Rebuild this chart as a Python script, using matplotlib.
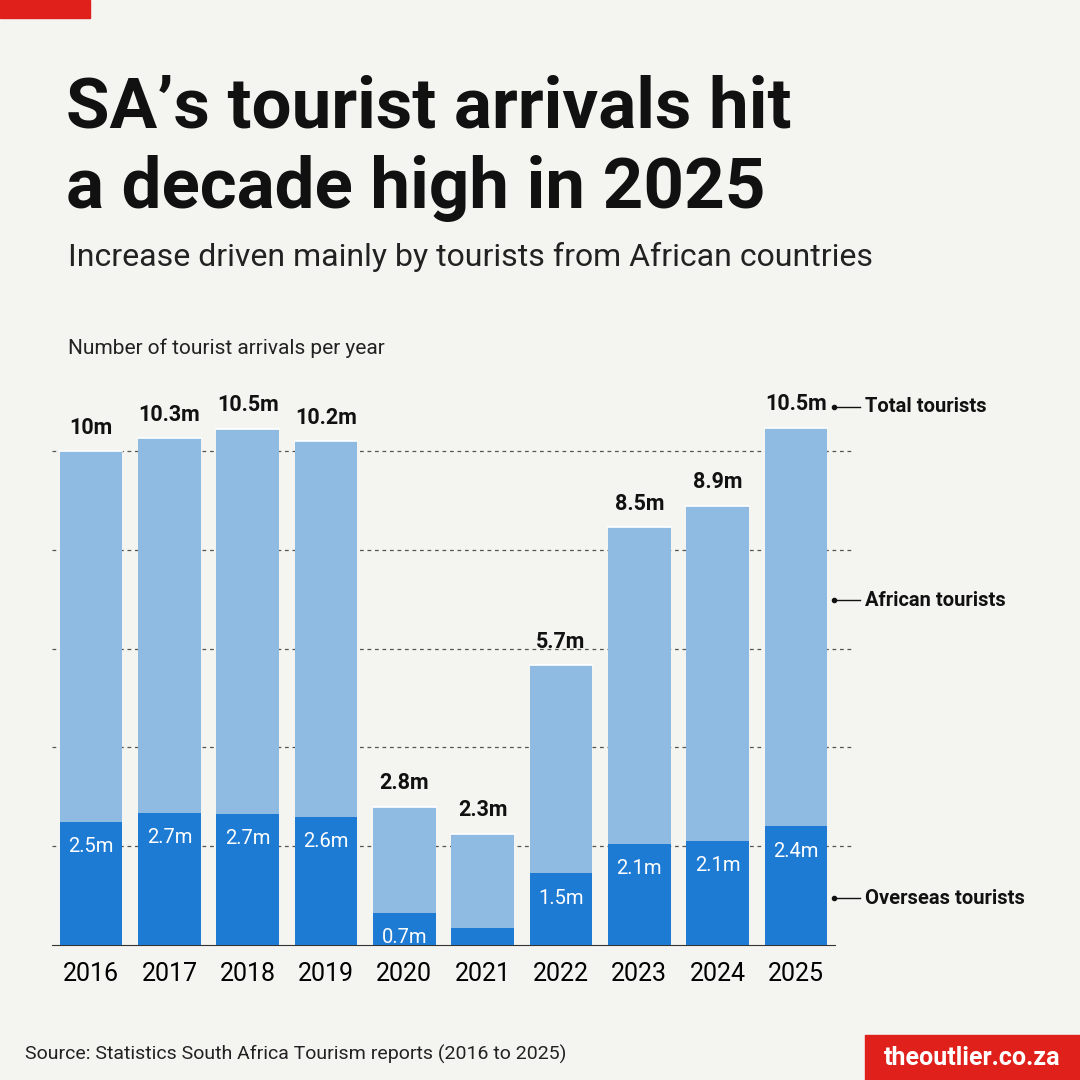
import matplotlib.pyplot as plt
from matplotlib.patches import Rectangle

years = ['2016', '2017', '2018', '2019', '2020', '2021', '2022', '2023', '2024', '2025']
total = [10.0, 10.26, 10.45, 10.2, 2.8, 2.25, 5.67, 8.46, 8.89, 10.47]
overseas = [2.5, 2.68, 2.65, 2.6, 0.65, 0.35, 1.45, 2.05, 2.1, 2.4]
total_lbl = ['10m', '10.3m', '10.5m', '10.2m', '2.8m', '2.3m', '5.7m', '8.5m', '8.9m', '10.5m']
over_lbl = ['2.5m', '2.7m', '2.7m', '2.6m', '0.7m', '', '1.5m', '2.1m', '2.1m', '2.4m']

BG = '#f4f4f0'
LIGHT = '#8fbbe3'
DARK = '#1e7bd3'
W = H = 1080
FONT = ['Roboto', 'DejaVu Sans']

fig = plt.figure(figsize=(10.8, 10.8), dpi=100, facecolor=BG)

def px(x, y):
    return x / W, 1 - y / H

# red tab top-left
fig.patches.append(Rectangle(px(0, 18), 90 / W, 18 / H, transform=fig.transFigure, color='#e0201b'))

fig.text(*px(66, 128), 'SA’s tourist arrivals hit', fontsize=51, fontweight='bold',
         family=FONT, va='baseline', color='#111')
fig.text(*px(66, 208), 'a decade high in 2025', fontsize=51, fontweight='bold',
         family=FONT, va='baseline', color='#111')
fig.text(*px(68, 266), 'Increase driven mainly by tourists from African countries', fontsize=23,
         family=FONT, va='baseline', color='#222')
fig.text(*px(68, 354), 'Number of tourist arrivals per year', fontsize=15,
         family=FONT, va='baseline', color='#222')

ppm = 49.4
ytop = 395
ax = fig.add_axes([52 / W, 1 - 945 / H, (835 - 52) / W, (945 - ytop) / H])
ax.set_facecolor(BG)
ax.set_ylim(0, (945 - ytop) / ppm)
x = list(range(len(years)))
ax.set_xlim(-0.5, len(years) - 0.5)
for g in [2, 4, 6, 8, 10]:
    ax.axhline(g, color='#555', ls=(0, (3, 3)), lw=0.9, zorder=0, xmax=1.02, clip_on=False)
ax.bar(x, total, width=0.8, color=LIGHT, zorder=2)
ax.bar(x, overseas, width=0.8, color=DARK, zorder=3)
for i in x:
    ax.plot([i - 0.4, i + 0.4], [total[i], total[i]], color='white', lw=1.2, zorder=4)
    ax.text(i, total[i] + 0.25, total_lbl[i], ha='center', va='bottom', fontsize=15.5,
            fontweight='bold', family=FONT, color='#111')
    if over_lbl[i]:
        ax.text(i, overseas[i] - 0.5, over_lbl[i], ha='center', va='center', fontsize=14.5,
                family=FONT, color='white', zorder=5)
for s in ['top', 'right', 'left']:
    ax.spines[s].set_visible(False)
ax.spines['bottom'].set_color('#333')
ax.set_yticks([])
ax.set_xticks(x)
ax.set_xticklabels(years, fontsize=18, family=FONT)
ax.tick_params(axis='x', length=0, pad=12)

# legend annotations on the right
for yy, lab in [(407, 'Total tourists'), (600, 'African tourists'), (898, 'Overseas tourists')]:
    fig.lines.append(plt.Line2D([834 / W, 860 / W], [1 - yy / H] * 2, color='#111', lw=1,
                                transform=fig.transFigure))
    fig.lines.append(plt.Line2D([834 / W], [1 - yy / H], marker='o', ms=3, color='#111',
                                transform=fig.transFigure))
    fig.text(865 / W, 1 - yy / H, lab, fontsize=14.5, fontweight='bold', family=FONT,
             va='center', color='#111')

fig.text(*px(25, 1060), 'Source: Statistics South Africa Tourism reports (2016 to 2025)', fontsize=14,
         family=FONT, va='baseline', color='#222')
fig.patches.append(Rectangle(px(865, 1080), 215 / W, 45 / H, transform=fig.transFigure, color='#e0201b'))
fig.text(*px(972, 1058), 'theoutlier.co.za', fontsize=18, fontweight='bold', color='white',
         ha='center', va='center', family=FONT)

fig.savefig('out.png', dpi=100, facecolor=BG)
